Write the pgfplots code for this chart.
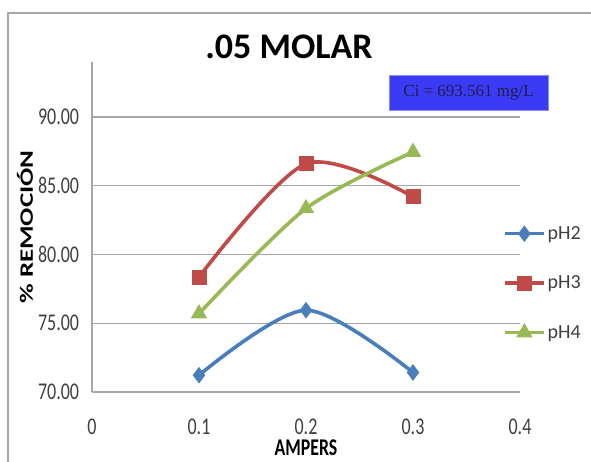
\documentclass[border=0pt]{standalone}
\usepackage{fontspec}
\setmainfont{Carlito}
\newfontfamily\ciFont{Liberation Serif}
\usepackage{pgfplots}
\pgfplotsset{compat=1.18}
\definecolor{cblue}{HTML}{4A7EBB}
\definecolor{cred}{HTML}{BE4B48}
\definecolor{cgreen}{HTML}{98B954}
\definecolor{gridc}{HTML}{A6A6A6}
\definecolor{cibox}{HTML}{3B3BF5}
\definecolor{citext}{HTML}{1E1E50}
\begin{document}
\begin{tikzpicture}
\path[use as bounding box] (0,0) rectangle (591pt,-462pt);
\draw[gridc, line width=1.8pt] (8pt,-462pt) -- (8pt,-13pt) -- (591pt,-13pt);
\begin{axis}[
  at={(92pt,-392pt)}, anchor=south west,
  scale only axis, width=428pt, height=330pt,
  xmin=0, xmax=0.4, ymin=70, ymax=94,
  xtick={0,0.1,0.2,0.3,0.4},
  xticklabels={0,0.1,0.2,0.3,0.4},
  ytick={70,75,80,85,90},
  yticklabels={70.00,75.00,80.00,85.00,90.00},
  major tick length=0pt,
  axis lines*=left,
  x axis line style={draw=none},
  y axis line style={gridc, line width=1.2pt, -},
  ymajorgrids, grid style={gridc, line width=1.5pt},
  tick label style={font=\fontsize{24}{24}\selectfont, color=black!75, inner sep=0pt, xscale=0.75},
  yticklabel style={anchor=east, xshift=-17pt},
  xticklabel style={anchor=center, yshift=-35pt},
  xlabel={AMPERS},
  ylabel={\% REMOCIÓN},
  every axis x label/.style={at={(axis description cs:0.5,-0.168)}, anchor=center, font=\fontsize{24}{24}\selectfont\bfseries, xscale=0.74},
  every axis y label/.style={at={(axis description cs:-0.1565,0.5)}, anchor=center, rotate=90, yscale=0.7, font=\fontsize{27}{27}\selectfont\bfseries},
  legend style={at={(axis description cs:0.96,0.33)}, anchor=west, draw=none, fill=none, inner sep=0pt, row sep=31pt, font=\fontsize{20}{20}\selectfont, text=black!75, cells={anchor=west}},
  legend image code/.code={\draw[mark repeat=2, mark phase=2, #1] plot coordinates {(0pt,0pt) (19.5pt,0pt) (39pt,0pt)};},
  clip=false,
]
\addplot[cblue, line width=3.6pt, smooth, tension=0.5, mark=diamond*, mark size=7.5pt, mark options={solid, line width=1pt}]
  coordinates {(0.1,71.22) (0.2,75.95) (0.3,71.42)};
\addlegendentry{pH2}
\addplot[cred, line width=3.6pt, smooth, tension=0.5, mark=square*, mark size=7pt, mark options={solid, line width=1pt}]
  coordinates {(0.1,78.36) (0.2,86.6) (0.3,84.2)};
\addlegendentry{pH3}
\addplot[cgreen, line width=3.6pt, smooth, tension=0.5, mark=triangle*, mark size=8.5pt, mark options={solid, line width=1pt}]
  coordinates {(0.1,75.7) (0.2,83.35) (0.3,87.45)};
\addlegendentry{pH4}
\end{axis}
\node[font=\fontsize{36}{36}\selectfont\bfseries] at (289pt,-47pt) {.05 MOLAR};
\node[fill=cibox, draw=cibox!60, minimum width=159pt, minimum height=35pt, inner sep=0pt, text=citext, font=\fontsize{17}{17}\selectfont\ciFont] at (468.5pt,-92.5pt) {Ci = 693.561 mg/L};
\end{tikzpicture}
\end{document}
